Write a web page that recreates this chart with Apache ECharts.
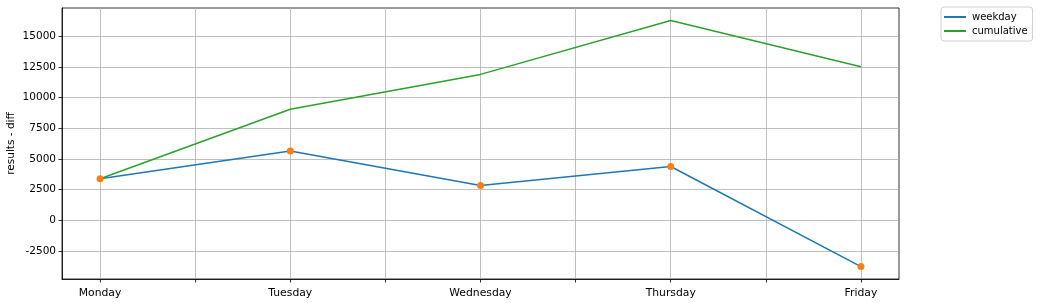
<!DOCTYPE html>
<html><head><meta charset="utf-8">
<script src="https://cdn.jsdelivr.net/npm/echarts@6/dist/echarts.min.js"></script>
<style>html,body{margin:0;padding:0;background:#fff}#c{width:1042px;height:303px}</style>
</head><body><div id="c"></div>
<script>
const categories = ['Monday', 'Tuesday', 'Wednesday', 'Thursday', 'Friday'];
const weekday = [3390, 5655, 2840, 4385, -3760];
const cumulative = [3390, 9045, 11885, 16270, 12510];
const yTicks = [-2500, 0, 2500, 5000, 7500, 10000, 12500, 15000];
const xMajorTicks = [0, 1, 2, 3, 4];
const xMinorTicks = [0, 0.5, 1, 1.5, 2, 2.5, 3, 3.5, 4];

const font = 'DejaVu Sans';
const chart = echarts.init(document.getElementById('c'));
const pairs = arr => arr.map((v, i) => [i, v]);
chart.setOption({
  animation: false,
  textStyle: { fontFamily: font },
  grid: { left: 62, right: 143, top: 8, bottom: 24, containLabel: false, outerBoundsMode: 'none',
    show: true, borderColor: '#000', borderWidth: 0.8, backgroundColor: 'transparent' },
  legend: {
    orient: 'vertical', left: 941, top: 7,
    data: ['weekday', 'cumulative'],
    icon: 'rect', itemWidth: 22, itemHeight: 2, itemGap: 4,
    padding: [5, 5, 5, 3],
    borderColor: '#d0d0d0', borderWidth: 1, borderRadius: 3, backgroundColor: '#fff',
    textStyle: { fontFamily: font, fontSize: 10, color: '#000', padding: [0, 0, 0, 1] }
  },
  xAxis: {
    type: 'value', min: -0.2, max: 4.2,
    axisLine: { show: true, onZero: false, lineStyle: { color: '#000', width: 0.8 } },
    axisTick: { show: true, inside: false, length: 3.5, lineStyle: { color: '#000', width: 0.8 }, customValues: xMinorTicks },
    axisLabel: { customValues: xMajorTicks, fontFamily: font, fontSize: 10.8, color: '#000', margin: 9,
      formatter: v => categories[Math.round(v)] || '' },
    splitLine: { show: true, lineStyle: { color: '#b0b0b0', width: 0.8 } }
  },
  yAxis: {
    type: 'value', min: -4770, max: 17290,
    name: 'results - diff', nameLocation: 'middle', nameGap: 45, nameRotate: 90, nameMoveOverlap: false,
    nameTextStyle: { fontFamily: font, fontSize: 10.5, color: '#000' },
    axisLine: { show: true, onZero: false, lineStyle: { color: '#000', width: 0.8 } },
    axisTick: { show: true, length: 3.5, lineStyle: { color: '#000', width: 0.8 }, customValues: yTicks },
    axisLabel: { customValues: yTicks, fontFamily: font, fontSize: 10.5, color: '#000', margin: 6,
      formatter: v => String(v) },
    splitLine: { show: true, lineStyle: { color: '#b0b0b0', width: 0.8 } }
  },
  series: [
    { name: 'weekday', type: 'line', data: pairs(weekday), showSymbol: false, symbol: 'none',
      lineStyle: { color: '#1f77b4', width: 1.5 }, itemStyle: { color: '#1f77b4' }, z: 2 },
    { name: 'cumulative', type: 'line', data: pairs(cumulative), showSymbol: false, symbol: 'none',
      lineStyle: { color: '#2ca02c', width: 1.5 }, itemStyle: { color: '#2ca02c' }, z: 3 },
    { name: 'points', type: 'scatter', data: pairs(weekday), symbolSize: 7,
      itemStyle: { color: '#ff7f0e', opacity: 1 }, z: 4 }
  ]
});
</script></body></html>
